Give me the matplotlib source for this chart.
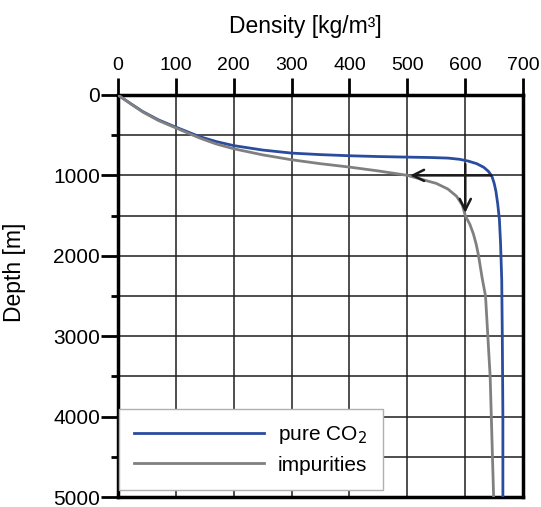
import matplotlib.pyplot as plt
import numpy as np

plt.rcParams['font.family'] = ['Liberation Sans', 'DejaVu Sans']

# density [kg/m3] vs depth [m]
pure_density = [0, 20, 43, 70, 100, 141, 170, 200, 250, 300, 350, 400, 450, 500, 540, 570, 590,
                605, 620, 632, 640, 646, 650, 653, 656, 659, 661, 663, 664, 665, 665]
pure_depth = [0, 98, 207, 310, 400, 518, 580, 630, 685, 723, 742, 756, 766, 773, 778, 785, 800,
              822, 855, 900, 950, 1010, 1100, 1200, 1350, 1550, 1850, 2300, 3000, 4000, 5000]

imp_density = [0, 20, 43, 70, 100, 141, 170, 200, 250, 300, 350, 400, 450, 500, 525, 550, 570,
               585, 595, 600, 608, 614, 619, 623, 629, 635, 639, 643, 645, 647, 649]
imp_depth = [0, 100, 212, 318, 410, 535, 610, 669, 745, 806, 855, 897, 945, 1000, 1050, 1100, 1170,
             1260, 1370, 1500, 1610, 1727, 1860, 2000, 2270, 2500, 3000, 3500, 4000, 4500, 5000]

fig = plt.figure(figsize=(5.41, 5.07), dpi=100)
ax = fig.add_axes([0.218, 0.0197, 0.749, 0.793])

ax.plot(pure_density, pure_depth, color='#2a4c9e', lw=2.0, label='pure CO$_2$', zorder=3)
ax.plot(imp_density, imp_depth, color='#808080', lw=2.0, label='impurities', zorder=3)

# arrows
ax.annotate('', xy=(500, 1000), xytext=(650, 1000),
            arrowprops=dict(arrowstyle='->', color='#1a1a1a', lw=1.8, mutation_scale=20), zorder=4)
ax.annotate('', xy=(600, 1500), xytext=(600, 825),
            arrowprops=dict(arrowstyle='->', color='#1a1a1a', lw=1.8, mutation_scale=20), zorder=4)

ax.set_xlim(0, 700)
ax.set_ylim(5000, 0)
ax.xaxis.tick_top()
ax.xaxis.set_label_position('top')
ax.set_xticks(np.arange(0, 701, 100))
ax.set_yticks(np.arange(0, 5001, 1000))
ax.set_yticks(np.arange(500, 5000, 1000), minor=True)
ax.tick_params(axis='x', direction='out', length=12, width=2, labelsize=14, pad=3)
ax.tick_params(axis='y', which='major', direction='out', length=12, width=2, labelsize=15, pad=1)
ax.tick_params(axis='y', which='minor', direction='out', length=5, width=2)
ax.grid(True, which='both', color='#1e1e1e', lw=1.1)
ax.set_xlabel('Density [kg/m³]', fontsize=16.5)
ax.xaxis.set_label_coords(0.462, 1.155)
ax.set_ylabel('Depth [m]', fontsize=16.5, va='center')
ax.yaxis.set_label_coords(-0.255, 0.56)
for s in ax.spines.values():
    s.set_linewidth(2.5)

leg = ax.legend(loc='lower left', bbox_to_anchor=(0.002, 0.017), borderaxespad=0,
                fontsize=15, handlelength=6.2, frameon=True, fancybox=False,
                edgecolor='#b0b0b0', framealpha=1, handletextpad=0.7, labelspacing=0.45,
                borderpad=0.75)
leg.get_frame().set_linewidth(1.0)

fig.savefig('out.png', dpi=100)
